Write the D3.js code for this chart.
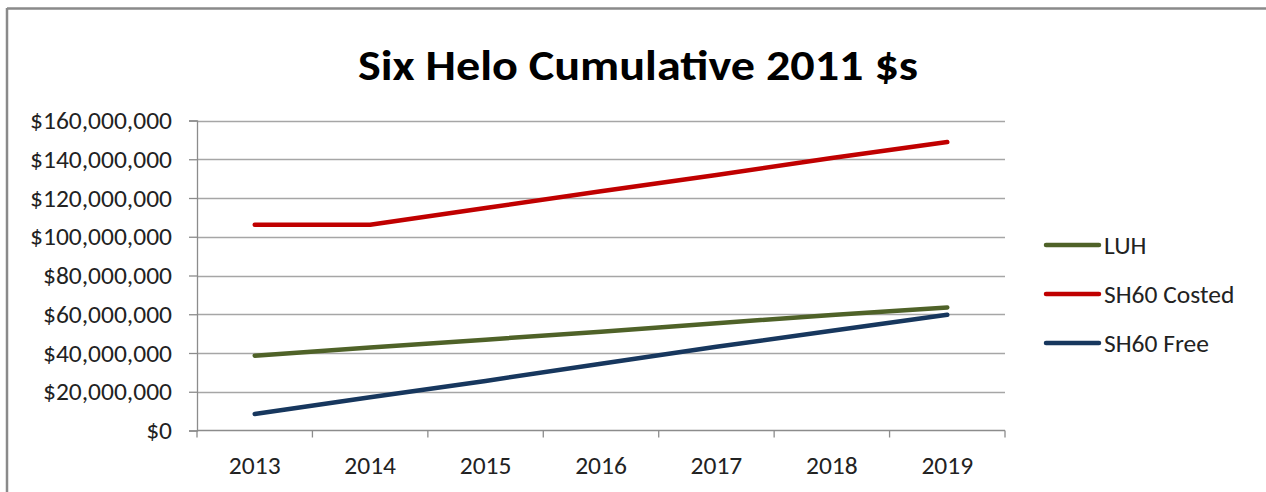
<!DOCTYPE html>
<html><head><meta charset="utf-8">
<script src="https://cdn.jsdelivr.net/npm/d3@7"></script>
<style>html,body{margin:0;padding:0;background:#fff;}svg{display:block;}</style>
</head><body>
<script>
const years = ["2013","2014","2015","2016","2017","2018","2019"];
const luh = [38.6e6, 42.8e6, 46.9e6, 51.0e6, 55.4e6, 59.6e6, 63.5e6];
const sh60Costed = [106.2e6, 106.2e6, 114.8e6, 123.5e6, 131.9e6, 140.6e6, 148.9e6];
const sh60Free = [8.5e6, 17.2e6, 25.6e6, 34.4e6, 43.2e6, 51.5e6, 59.7e6];
const yTicks = [0, 20e6, 40e6, 60e6, 80e6, 100e6, 120e6, 140e6, 160e6];
const seriesNames = ["LUH", "SH60 Costed", "SH60 Free"];
const seriesColors = ["#4F6228", "#C00000", "#17375E"];
const seriesValues = [luh, sh60Costed, sh60Free];

(function () {
const W = 1266, H = 492;
const svg = d3.select("body").append("svg").attr("width", W).attr("height", H);
const font = "Carlito, 'Open Sans', 'Liberation Sans', sans-serif";
const fs = 25.5;

// outer frame (top and left visible)
svg.append("line").attr("x1", 7).attr("x2", W).attr("y1", 8.5).attr("y2", 8.5).attr("stroke", "#8a8a8a").attr("stroke-width", 2.5);
svg.append("line").attr("x1", 7).attr("x2", 7).attr("y1", 8).attr("y2", H).attr("stroke", "#8a8a8a").attr("stroke-width", 2.5);

const pLeft = 197, pRight = 1005, pTop = 120.5, pBottom = 430.5;
const x = d3.scaleBand().domain(years).range([pLeft, pRight]);
const y = d3.scaleLinear().domain([0, 160e6]).range([pBottom, pTop]);

// title
svg.append("text").attr("x", 638).attr("y", 80).attr("text-anchor", "middle")
  .attr("font-family", font).attr("font-weight", "bold").attr("font-size", 42)
  .attr("textLength", 560).attr("lengthAdjust", "spacingAndGlyphs")
  .attr("fill", "#000").text("Six Helo Cumulative 2011 $s");

// gridlines
svg.append("g").selectAll("line").data(yTicks.filter(d => d > 0)).join("line")
  .attr("x1", pLeft).attr("x2", pRight)
  .attr("y1", d => Math.round(y(d)) + 0.5).attr("y2", d => Math.round(y(d)) + 0.5)
  .attr("stroke", "#a6a6a6").attr("stroke-width", 1.3);

// y axis
const fmt = d => "$" + d3.format(",")(d);
const yAxis = svg.append("g").attr("transform", `translate(${pLeft},0)`)
  .call(d3.axisLeft(y).tickValues(yTicks).tickFormat(fmt).tickSize(8).tickPadding(17));
yAxis.select(".domain").attr("stroke", "#8c8c8c").attr("stroke-width", 1.3);
yAxis.selectAll(".tick line").attr("stroke", "#8c8c8c").attr("stroke-width", 1.3);
yAxis.selectAll("text").attr("font-family", font).attr("font-size", fs).attr("fill", "#222");

// x axis
const xAxis = svg.append("g").attr("transform", `translate(0,${pBottom})`)
  .call(d3.axisBottom(x).tickSize(0).tickPadding(25));
xAxis.select(".domain").remove();
svg.append("line").attr("x1", pLeft).attr("x2", pRight).attr("y1", pBottom).attr("y2", pBottom)
  .attr("stroke", "#8c8c8c").attr("stroke-width", 1.3);
const boundaries = years.map(d => x(d)).concat([pRight]);
svg.append("g").selectAll("line").data(boundaries).join("line")
  .attr("x1", d => d).attr("x2", d => d).attr("y1", pBottom).attr("y2", pBottom + 7)
  .attr("stroke", "#8c8c8c").attr("stroke-width", 1.3);
xAxis.selectAll("text").attr("font-family", font).attr("font-size", fs).attr("fill", "#222");

// lines
const line = d3.line().x((d, i) => x(years[i]) + x.bandwidth() / 2).y(d => y(d));
seriesValues.forEach((vals, k) => {
  svg.append("path").datum(vals).attr("d", line).attr("fill", "none")
    .attr("stroke", seriesColors[k]).attr("stroke-width", 4.5)
    .attr("stroke-linecap", "round").attr("stroke-linejoin", "round");
});

// legend
const legY = [245, 294, 343];
const lg = svg.append("g");
seriesNames.forEach((n, k) => {
  lg.append("line").attr("x1", 1046).attr("x2", 1099).attr("y1", legY[k]).attr("y2", legY[k])
    .attr("stroke", seriesColors[k]).attr("stroke-width", 4.5).attr("stroke-linecap", "round");
  lg.append("text").attr("x", 1104).attr("y", legY[k] + 8.5).attr("font-family", font)
    .attr("font-size", fs).attr("fill", "#222").text(n);
});
})();
</script>
</body></html>
